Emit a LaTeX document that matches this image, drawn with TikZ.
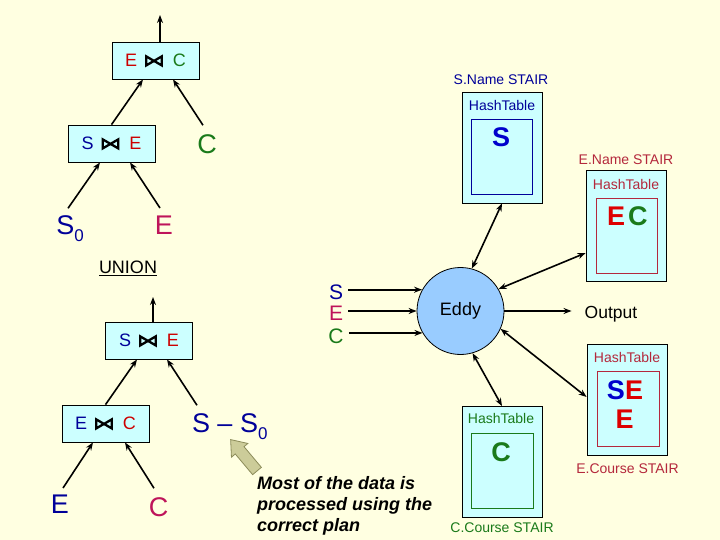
\documentclass[tikz,border=0pt]{standalone}
\usepackage{fontspec}
\setmainfont{Liberation Sans}
\usetikzlibrary{arrows.meta}
\definecolor{bgyellow}{HTML}{FFFFE1}
\definecolor{boxcyan}{HTML}{CCFFFF}
\definecolor{eddyblue}{HTML}{99CCFF}
\definecolor{relS}{HTML}{000099}
\definecolor{relE}{HTML}{CC0000}
\definecolor{relC}{HTML}{1A7A1A}
\definecolor{relEE}{HTML}{BE145A}
\definecolor{tupS}{HTML}{0000CC}
\definecolor{tupE}{HTML}{DD0000}
\definecolor{stairE}{HTML}{B4283C}
\definecolor{khaki}{HTML}{CCCC99}
\definecolor{khakiline}{HTML}{8C8C5A}
\newcommand{\joinsym}{\tikz[baseline={(0pt,-1.3pt)}]\draw[black,line width=2.3pt,line join=miter] (0pt,0pt) -- (15.5pt,9pt) -- (15.5pt,0pt) -- (0pt,9pt) -- cycle;}
\newcommand{\subzero}{\raisebox{-7pt}{\fontsize{17}{17}\selectfont 0}}
\begin{document}
\begin{tikzpicture}[x=1pt,y=-1pt,
    joinbox/.style={draw=black,line width=0.8pt,fill=boxcyan,minimum width=87pt,minimum height=37pt,font=\fontsize{18}{18}\selectfont},
    rel/.style={font=\fontsize{27}{27}\selectfont},
    stair/.style={draw=black,line width=0.8pt,fill=boxcyan,minimum width=80pt,minimum height=111pt},
    hashbox/.style={draw,line width=0.8pt,minimum width=61pt,minimum height=75pt},
    smalltxt/.style={font=\fontsize{14}{14}\selectfont},
    tuple/.style={font=\bfseries\fontsize{27}{27}\selectfont},
    feeds/.style={-{Stealth[length=8pt,width=6pt]},line width=1.6pt},
    stairlink/.style={{Stealth[length=8pt,width=6pt]}-{Stealth[length=8pt,width=6pt]},line width=1.6pt}]
    \tikzstyle{every node}+=[inner sep=0pt]
    \fill[bgyellow] (0,0) rectangle (720,540);
    \useasboundingbox (0,0) rectangle (720,540);
    \node[joinbox] (ec1) at (155.5,60.5) {\color{relE}E\hspace{8pt}\joinsym\hspace{10pt}\color{relC}C};
    \node[joinbox] (se1) at (111.5,143.5) {\color{relS}S\hspace{8pt}\joinsym\hspace{10pt}\color{relE}E};
    \node[rel,text=relC] (c1) at (207,144.5) {C};
    \node[rel,text=relS] (s0) at (70,228.5) {S\subzero};
    \node[rel,text=relEE] (e1) at (164,225.5) {E};
    \node[font=\fontsize{18}{18}\selectfont] (union) at (128,268) {\underline{UNION}};
    \coordinate (out1) at (160,15);
    \draw[feeds] ([xshift=4.5pt]ec1.north) -- (out1);
    \draw[feeds] (se1.north) -- ([xshift=-12.5pt]ec1.south);
    \draw[feeds] ([xshift=-4pt,yshift=9.5pt]c1.north) -- ([xshift=17.5pt]ec1.south);
    \draw[feeds] ([xshift=-2pt,yshift=7pt]s0.north) -- ([xshift=-11.5pt]se1.south);
    \draw[feeds] ([xshift=-4pt,yshift=8pt]e1.north) -- ([xshift=18.5pt]se1.south);
    \node[joinbox] (se2) at (149,340.5) {\color{relS}S\hspace{8pt}\joinsym\hspace{10pt}\color{relE}E};
    \node[joinbox] (ec2) at (105.5,423.5) {\color{relS}E\hspace{8pt}\joinsym\hspace{10pt}\color{relE}C};
    \node[rel,text=relS] (ss0) at (229.75,426.5) {S -- S\subzero};
    \node[rel,text=relS] (e2) at (60,504.5) {E};
    \node[rel,text=relEE] (c2) at (158.5,507.5) {C};
    \coordinate (out2) at (153,297);
    \draw[feeds] ([xshift=4pt]se2.north) -- (out2);
    \draw[feeds] (ec2.north) -- ([xshift=-12pt]se2.south);
    \draw[feeds] ([xshift=-32.75pt,yshift=8pt]ss0.north) -- ([xshift=18pt]se2.south);
    \draw[feeds] ([xshift=3pt,yshift=7pt]e2.north) -- ([xshift=-12.5pt]ec2.south);
    \draw[feeds] ([xshift=-4.5pt,yshift=9.5pt]c2.north) -- ([xshift=19.5pt]ec2.south);
    \begin{scope}[shift={(257,471)},rotate=130]
    \filldraw[fill=khaki,draw=khakiline,line width=0.8pt] (0,-5.7) -- (27,-5.7) -- (27,-10.7) -- (41,0) -- (27,10.7) -- (27,5.7) -- (0,5.7) -- cycle;
    \end{scope}
    \node[font=\bfseries\itshape\fontsize{18}{21}\selectfont,align=left,anchor=north west] (note) at (257,476) {Most of the data is\\processed using the\\correct plan};
    \node[circle,draw=black,line width=0.8pt,fill=eddyblue,minimum size=87pt,font=\fontsize{18}{18}\selectfont] (eddy) at (460.5,311) {Eddy};
    \node[font=\fontsize{21}{21}\selectfont,text=relS] (inS) at (336,292.5) {S};
    \node[font=\fontsize{21}{21}\selectfont,text=relEE] (inE) at (336,313) {E};
    \node[font=\fontsize{21}{21}\selectfont,text=relC] (inC) at (336,336) {C};
    \draw[feeds,shorten <=5pt] (inS.east |- eddy.151) -- (eddy.151);
    \draw[feeds,shorten <=5pt] (inE.east |- eddy.west) -- (eddy.west);
    \draw[feeds,shorten <=5pt] (inC.east |- eddy.210) -- (eddy.210);
    \node[font=\fontsize{17.5}{17.5}\selectfont] (output) at (611,314) {Output};
    \draw[feeds,shorten >=13pt] (eddy.east) -- (eddy.east -| output.west);
    \node[stair] (snamebox) at (502,147.5) {};
    \node[hashbox,draw=relS] (snamehash) at (502,156.5) {};
    \node[smalltxt,text=relS] (snamelbl) at (501,80) {S.Name STAIR};
    \node[smalltxt,text=relS] (snameht) at (502,105) {HashTable};
    \node[tuple,text=tupS] (snametup) at (501,137) {S};
    \node[stair] (enamebox) at (626,226) {};
    \node[hashbox,draw=stairE] (enamehash) at (626.5,235.5) {};
    \node[smalltxt,text=stairE] (enamelbl) at (626,159.5) {E.Name STAIR};
    \node[smalltxt,text=stairE] (enameht) at (626,184) {HashTable};
    \node[tuple] (enametup) at (627.25,216.5) {\color{tupE}E\hspace{3pt}\color{relC}C};
    \node[stair] (ecoursebox) at (627,399.5) {};
    \node[hashbox,draw=stairE,minimum width=62pt] (ecoursehash) at (628,408.5) {};
    \node[smalltxt,text=stairE] (ecourseht) at (627,357) {HashTable};
    \node[tuple] (ecoursetup) at (625,390) {\color{tupS}S\color{tupE}E};
    \node[tuple,text=tupE] (ecoursetup2) at (624.5,419.5) {E};
    \node[smalltxt,text=stairE] (ecourselbl) at (627.5,469) {E.Course STAIR};
    \node[stair] (ccoursebox) at (502,462) {};
    \node[hashbox,draw=relC,minimum width=62pt] (ccoursehash) at (502,470.5) {};
    \node[smalltxt,text=relC] (ccourseht) at (501,418.5) {HashTable};
    \node[tuple,text=relC] (ccoursetup) at (501,452) {C};
    \node[smalltxt,text=relC] (ccourselbl) at (502,528) {C.Course STAIR};
    \draw[stairlink] (snamebox.south) -- (eddy.75);
    \draw[stairlink] ([yshift=-27pt]enamebox.west) -- (eddy.30);
    \draw[stairlink] ([yshift=2.5pt]ecoursebox.west) -- (eddy.-24);
    \draw[stairlink] (ccoursebox.north) -- (eddy.-74);
\end{tikzpicture}
\end{document}
